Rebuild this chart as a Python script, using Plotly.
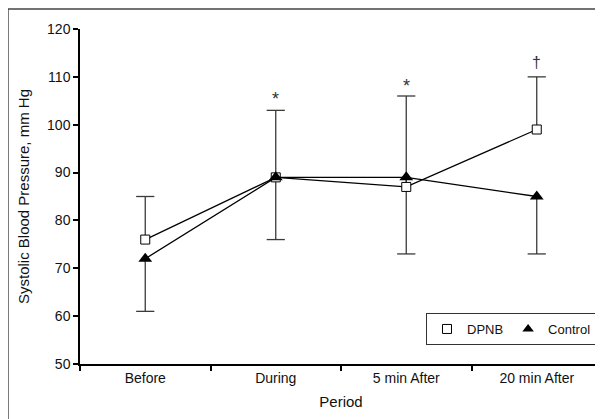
import plotly.graph_objects as go

periods = ["Before", "During", "5 min After", "20 min After"]
dpnb = [76, 89, 87, 99]
dpnb_err_up = [9, 14, 19, 11]
control = [72, 89, 89, 85]
control_err_down = [11, 13, 16, 12]
sig_marks = ["", "*", "*", "†"]
sig_y = [None, 105.4, 108.1, 113.1]
y_ticks = [50, 60, 70, 80, 90, 100, 110, 120]

FONT = "Liberation Sans, Arial, Helvetica, sans-serif"
ERR_COLOR = "#3a3a3a"

fig = go.Figure()


def whiskers(means, deltas, sign):
    xs, ys, cx, cy = [], [], [], []
    for p, m, d in zip(periods, means, deltas):
        end = m + sign * d
        xs += [p, p, None]
        ys += [m, end, None]
        cx.append(p)
        cy.append(end)
    fig.add_trace(go.Scatter(x=xs, y=ys, mode="lines",
                             line=dict(color=ERR_COLOR, width=1.3),
                             showlegend=False, hoverinfo="skip"))
    fig.add_trace(go.Scatter(x=cx, y=cy, mode="markers",
                             marker=dict(symbol="line-ew", size=13,
                                         line=dict(color=ERR_COLOR, width=1.3)),
                             showlegend=False, hoverinfo="skip"))


whiskers(dpnb, dpnb_err_up, 1)
whiskers(control, control_err_down, -1)

fig.add_trace(go.Scatter(x=periods, y=dpnb, mode="lines+markers", name="DPNB",
                         line=dict(color="black", width=1.3),
                         marker=dict(symbol="square", size=9, color="white",
                                     line=dict(color="black", width=1)),
                         showlegend=False))
fig.add_trace(go.Scatter(x=periods, y=control, mode="lines+markers", name="Control",
                         line=dict(color="black", width=1.3),
                         marker=dict(symbol="triangle-up", size=12, color="black",
                                     line=dict(color="black", width=0)),
                         showlegend=False))

# legend entries (markers only)
fig.add_trace(go.Scatter(x=[None], y=[None], mode="markers", name="DPNB",
                         marker=dict(symbol="square", size=9, color="white",
                                     line=dict(color="black", width=1))))
fig.add_trace(go.Scatter(x=[None], y=[None], mode="markers", name="Control",
                         marker=dict(symbol="triangle-up", size=10, color="black")))

for p, t, yv in zip(periods, sig_marks, sig_y):
    if t:
        fig.add_annotation(x=p, y=yv, text=t, showarrow=False,
                           font=dict(size=18 if t == "*" else 16, color="#333", family=FONT))

fig.add_shape(type="line", xref="paper", yref="paper",
              x0=-0.138, x1=1.1, y0=1.0597, y1=1.0597,
              line=dict(color="#444", width=1.5))
fig.add_shape(type="line", xref="paper", yref="paper",
              x0=-0.138, x1=-0.138, y0=-0.3, y1=1.0597,
              line=dict(color="#444", width=1.5))

fig.update_layout(
    width=595, height=411,
    margin=dict(l=72, r=1, t=21, b=55),
    paper_bgcolor="white", plot_bgcolor="white",
    font=dict(family=FONT, size=14, color="#111"),
    legend=dict(orientation="h", x=0.9904, xanchor="right", y=0.1522, yanchor="top",
                bgcolor="white", bordercolor="#333", borderwidth=1,
                font=dict(size=13), itemwidth=30, tracegroupgap=0),
)
fig.update_xaxes(type="category", range=[-0.5, 3.5], tickson="boundaries",
                 showline=True, linecolor="black", linewidth=1.5,
                 ticks="outside", ticklen=5, tickwidth=1.5, tickcolor="black",
                 showgrid=False, zeroline=False, tickfont=dict(size=14),
                 title=dict(text="Period", font=dict(size=15), standoff=12))
fig.update_yaxes(range=[50, 120], tickvals=y_ticks,
                 showline=True, linecolor="black", linewidth=1.5,
                 ticks="outside", ticklen=5, tickwidth=1.5, tickcolor="black",
                 showgrid=False, zeroline=False, tickfont=dict(size=14),
                 title=dict(text="Systolic Blood Pressure, mm Hg", font=dict(size=15), standoff=14))

fig.write_html("out.html")
